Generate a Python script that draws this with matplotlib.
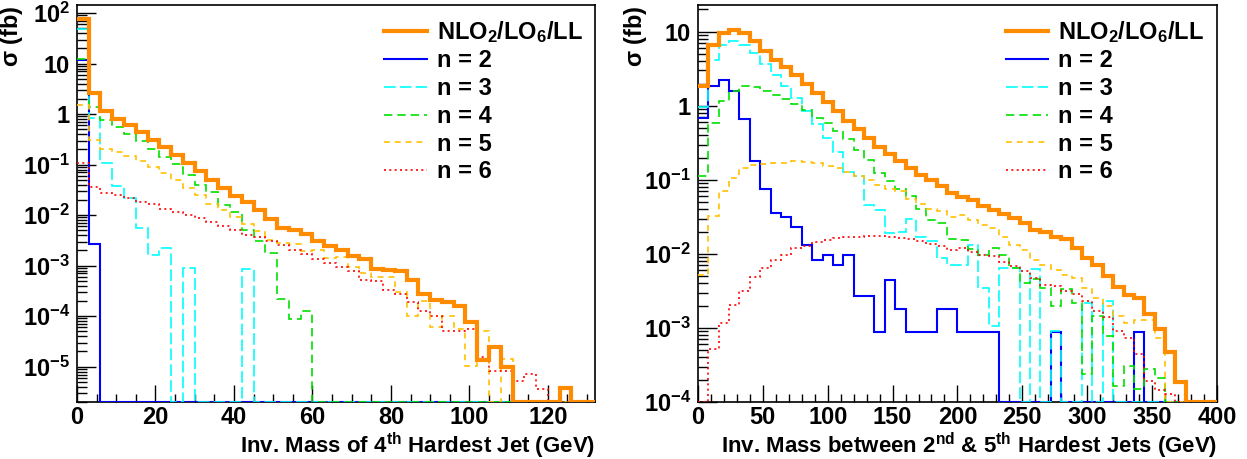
import numpy as np
import matplotlib
matplotlib.use('Agg')
import matplotlib.pyplot as plt
from matplotlib.lines import Line2D
from matplotlib.ticker import FixedLocator, MultipleLocator, LogLocator, NullFormatter

plt.rcParams['font.family'] = ['Liberation Sans', 'DejaVu Sans']
plt.rcParams['font.weight'] = 'bold'
plt.rcParams['mathtext.fontset'] = 'custom'
plt.rcParams['mathtext.rm'] = 'Liberation Sans:bold'
plt.rcParams['mathtext.bf'] = 'Liberation Sans:bold'
plt.rcParams['mathtext.default'] = 'rm'

# ---- left panel: inv. mass of 4th hardest jet, 3 GeV bins ----
edges_m4 = np.arange(0, 133, 3)
m4_total = [75, 2.63, 1.14, 0.80, 0.61, 0.44, 0.31, 0.224, 0.155, 0.108, 0.0748,
            0.0504, 0.0349, 0.0243, 0.0182, 0.0128, 0.0085, 0.00555, 0.0051, 0.0042,
            0.0031, 0.0025, 2.06e-3, 1.52e-3, 1.37e-3, 8.5e-4, 8.3e-4, 8.0e-4, 5.1e-4,
            2.8e-4, 2.1e-4, 1.9e-4, 1.6e-4, 7.6e-5, 1.36e-5, 2.4e-5, 1.0e-5, 0, 0, 0, 0,
            3.8e-6, 0, 0]
m4_n2 = [12, 2.67e-3] + [0] * 42
m4_n3 = [48.9, 0.853, 0.1076, 0.0383, 0.0218, 0.00554, 0.00159, 0.00222, 0, 8.9e-4,
         0, 0, 0, 0, 8.5e-4] + [0] * 29
m4_n4 = [12.6, 1.39, 0.755, 0.557, 0.404, 0.298, 0.204, 0.1415, 0.1044, 0.0632,
         0.0401, 0.0282, 0.0158, 0.0113, 0.00498, 0.00306, 0.0018, 2.17e-4, 8.7e-5,
         1.25e-4] + [0] * 24
m4_n5 = [1.5, 0.303, 0.204, 0.175, 0.151, 0.116, 0.0897, 0.0682, 0.0489, 0.0344,
         0.0254, 0.0166, 0.0128, 0.00916, 0.00676, 0.00483, 0.00325, 0.00279, 0.00263,
         0.00191, 0.00206, 0.00141, 1.47e-3, 9.3e-4, 7.1e-4, 5.9e-4, 5.9e-4, 3.0e-4,
         1.0e-4, 2.0e-4, 6.0e-5, 1.03e-4, 5.6e-5, 1.05e-5, 5.2e-5, 0, 1.42e-5] + [0] * 7
m4_n6 = [0.108, 0.036, 0.0274, 0.0246, 0.0215, 0.0182, 0.0163, 0.0134, 0.0117, 0.00988,
         0.0086, 0.00718, 0.00616, 0.00513, 0.00407, 0.00367, 0.00302, 0.00259, 0.00206,
         0.00172, 0.00137, 0.00112, 9.3e-4, 7.8e-4, 5.24e-4, 4.93e-4, 3.32e-4, 2.77e-4,
         1.89e-4, 1.29e-4, 1.03e-4, 5.2e-5, 5.2e-5, 5.6e-5, 1.53e-5, 8.3e-6, 8.3e-6,
         5.3e-6, 7.2e-6, 3.6e-6, 0, 0, 0, 0]

# ---- right panel: inv. mass between 2nd & 5th hardest jets, 8 GeV bins ----
edges_m25 = np.arange(0, 401, 8)
m25_total = [1.83, 6.63, 9.7, 10.7, 9.5, 7.57, 5.5, 4.18, 3.33, 2.63, 1.97, 1.49, 1.13,
             0.84, 0.62, 0.482, 0.373, 0.282, 0.223, 0.181, 0.145, 0.117, 0.098, 0.0815,
             0.0663, 0.0586, 0.0528, 0.0444, 0.0388, 0.0351, 0.0307, 0.0258, 0.0210,
             0.0195, 0.0171, 0.0159, 0.0119, 0.00875, 0.00713, 0.00497, 0.00354, 0.00282,
             0.00255, 0.00152, 9.6e-4, 4.7e-4, 1.85e-4, 0, 0, 0]
m25_n2 = [0.69, 1.87, 2.25, 1.57, 0.656, 0.179, 0.0743, 0.0361, 0.0316, 0.023, 0.0132,
          0.0083, 0.0097, 0.00713, 0.0097, 0.00268, 0.00268, 8.8e-4, 0.00449, 0.00178,
          8.8e-4, 8.8e-4, 8.8e-4, 0.00178, 0.00178, 8.8e-4, 8.8e-4, 8.8e-4, 8.8e-4,
          0, 0, 0, 0, 0, 8.8e-4, 0, 0, 0, 0, 0, 0, 0, 8.8e-4, 0, 0, 0, 0, 0, 0, 0]
m25_n3 = [0.96, 4.1, 6.63, 7.57, 6.6, 5.13, 3.65, 2.63, 1.87, 1.28, 0.85, 0.562, 0.373,
          0.239, 0.129, 0.114, 0.0462, 0.0388, 0.0189, 0.0199, 0.0294, 0.0171, 0.0149,
          0.00893, 0.00713, 0.00713, 0.0132, 0.00347, 0.00106, 0.00643, 0.00643, 0,
          0.0062, 0, 0.0009, 0, 0, 0.0022, 0, 0.0023, 0, 0, 0, 0, 0, 0, 0, 0, 0, 0]
m25_n4 = [0.111, 0.58, 1.155, 1.57, 1.83, 1.8, 1.57, 1.42, 1.24, 1.06, 0.875, 0.69, 0.58,
          0.458, 0.354, 0.255, 0.185, 0.124, 0.095, 0.0757, 0.0604, 0.0409, 0.0285,
          0.0258, 0.0159, 0.0154, 0.0117, 0.0097, 0.0119, 0.0097, 0.00643, 0.00405,
          0.00462, 0.00347, 0.00197, 0.0034, 0.00218, 2.4e-4, 0.00145, 7.8e-4, 1.67e-4,
          3.1e-4, 1.51e-4, 2.8e-4, 2.1e-4, 0, 0, 0, 0, 0]
m25_n5 = [0.00523, 0.0326, 0.0713, 0.105, 0.145, 0.159, 0.164, 0.167, 0.171, 0.18, 0.176,
          0.167, 0.156, 0.143, 0.127, 0.111, 0.1, 0.0857, 0.0743, 0.0698, 0.0557, 0.0472,
          0.0401, 0.038, 0.0316, 0.0333, 0.0285, 0.0244, 0.0221, 0.0171, 0.0132, 0.0113,
          0.0083, 0.00713, 0.0061, 0.00523, 0.00472, 0.00347, 0.00255, 0.00197, 0.00145,
          0.00118, 1.28e-3, 1.28e-3, 7.4e-4, 0, 0, 0, 0, 0]
m25_n6 = [0, 5.18e-4, 1.16e-3, 2.07e-3, 3.13e-3, 4.82e-3, 6.43e-3, 8.3e-3, 9.7e-3, 0.0119,
          0.0129, 0.0146, 0.0152, 0.0162, 0.0169, 0.017, 0.0174, 0.0174, 0.017, 0.0165,
          0.0157, 0.0149, 0.0135, 0.0128, 0.0113, 0.0119, 0.0107, 0.0097, 0.0095, 0.00773,
          0.00676, 0.0058, 0.00472, 0.00385, 0.00366, 0.00313, 0.00288, 0.0023, 0.00169,
          0.0014, 9.1e-4, 7.4e-4, 4.4e-4, 1.95e-4, 1.43e-4, 1.3e-4, 0, 0, 0, 0]

labels = [r'NLO$_{2}$/LO$_{6}$/LL', 'n = 2', 'n = 3', 'n = 4', 'n = 5', 'n = 6']
styles = [
    dict(color='#ff8c00', lw=3.0, ls='-'),
    dict(color='#0000ff', lw=1.5, ls='-'),
    dict(color='#00ffff', lw=1.2, ls=(0, (7, 2.5))),
    dict(color='#00e000', lw=1.2, ls=(0, (5, 3))),
    dict(color='#ffc000', lw=1.2, ls=(0, (3.5, 3))),
    dict(color='#ff0000', lw=1.2, ls=(0, (1.2, 2))),
]


def decade_label(v):
    e = int(round(np.log10(v)))
    if e == 0:
        return '1'
    if e == 1:
        return '10'
    return '10$^{%d}$' % e


def draw(ax, edges, series, ylo, yhi, xlabel, decades, ylab_x):
    # zero bins are drawn along the bottom of the frame, as ROOT does
    for i in [1, 2, 3, 4, 5, 0]:
        vals = np.clip(np.asarray(series[i], dtype=float), ylo, None)
        ax.stairs(vals, edges, zorder=3 if i == 0 else 2.7, baseline=None, **styles[i])
    ax.set_yscale('log')
    ax.set_xlim(edges[0], edges[-1])
    ax.set_ylim(ylo, yhi)
    ax.yaxis.set_major_locator(FixedLocator(decades))
    ax.yaxis.set_major_formatter(plt.FuncFormatter(lambda v, p: decade_label(v)))
    ax.yaxis.set_minor_locator(LogLocator(base=10, subs=np.arange(2, 10)))
    ax.yaxis.set_minor_formatter(NullFormatter())
    ax.tick_params(which='both', direction='in', top=False, right=False, labelsize=17)
    ax.tick_params(axis='y', which='major', length=14, width=1, pad=5)
    ax.tick_params(axis='y', which='minor', length=7, width=1)
    ax.tick_params(axis='x', which='major', length=12, width=1, pad=3)
    ax.tick_params(axis='x', which='minor', length=6, width=1)
    for sp in ax.spines.values():
        sp.set_linewidth(1.2)
    ax.set_xlabel(xlabel, loc='right', fontsize=16, fontweight='bold', labelpad=1)
    ax.set_ylabel(r'$\sigma$ (fb)', loc='top', fontsize=17, fontweight='bold')
    ax.yaxis.set_label_coords(ylab_x, 1.0)
    hs = [Line2D([], [], **styles[i]) for i in range(6)]
    ax.legend(hs, labels, loc='upper left', bbox_to_anchor=(0.593, 0.965),
              frameon=False, fontsize=17, handlelength=1.8, handletextpad=0.42,
              labelspacing=0.2, borderaxespad=0, borderpad=0)


fig = plt.figure(figsize=(12.47, 4.59), dpi=100)
ax1 = fig.add_axes([0.0617, 0.1242, 0.4154, 0.865])
ax2 = fig.add_axes([0.5597, 0.1242, 0.4162, 0.865])

draw(ax1, edges_m4, [m4_total, m4_n2, m4_n3, m4_n4, m4_n5, m4_n6], 2e-6, 145,
     r'Inv. Mass of 4$^{\mathrm{th}}$ Hardest Jet (GeV)',
     [1e-5, 1e-4, 1e-3, 1e-2, 1e-1, 1, 10, 100], -0.10)
ax1.xaxis.set_major_locator(MultipleLocator(20))
ax1.xaxis.set_minor_locator(MultipleLocator(5))

draw(ax2, edges_m25, [m25_total, m25_n2, m25_n3, m25_n4, m25_n5, m25_n6], 1e-4, 23,
     r'Inv. Mass between 2$^{\mathrm{nd}}$ & 5$^{\mathrm{th}}$ Hardest Jets (GeV)',
     [1e-4, 1e-3, 1e-2, 1e-1, 1, 10], -0.095)
ax2.xaxis.set_major_locator(MultipleLocator(50))
ax2.xaxis.set_minor_locator(MultipleLocator(10))

fig.savefig('out.png', dpi=100)
